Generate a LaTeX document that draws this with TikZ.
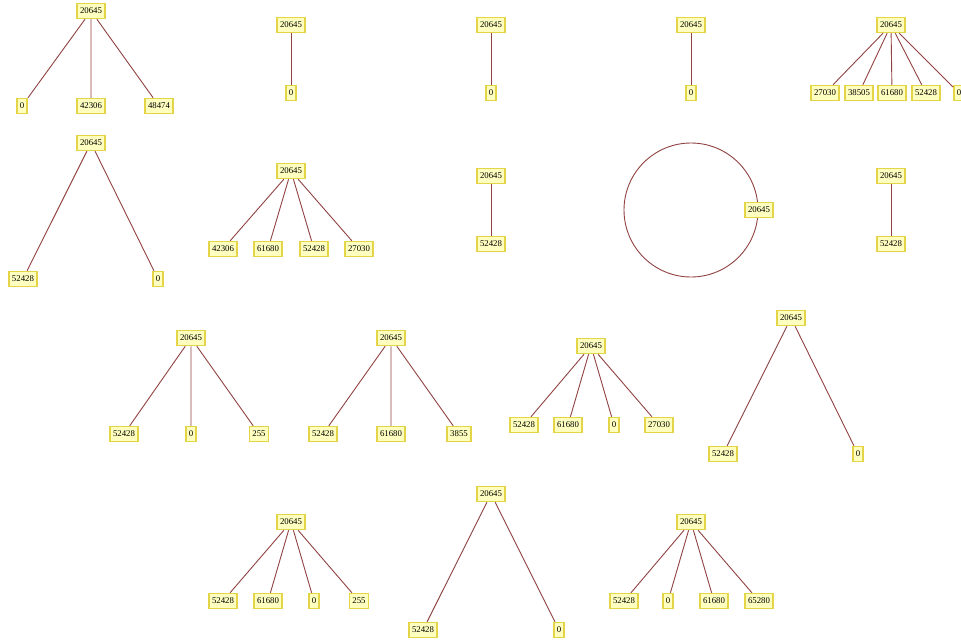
\documentclass[tikz,border=0pt]{standalone}
\usepackage{fontspec}
\setmainfont{Liberation Serif}
\definecolor{nodeborder}{RGB}{228,212,72}
\definecolor{nodefill}{RGB}{255,255,192}
\definecolor{edgecol}{RGB}{145,66,66}
\begin{document}
\begin{tikzpicture}[x=1pt,y=-1pt,
  vtx/.style={draw=nodeborder,fill=nodefill,line width=1.5pt,inner xsep=3pt,inner ysep=0pt,minimum height=15pt,font=\fontsize{8.8}{9}\selectfont},
  edge/.style={draw=edgecol,line width=0.9pt}]
\useasboundingbox[fill=white] (0,0) rectangle (961,642);
% graph 1
\node[vtx] (a0) at (91,11) {20645};
\node[vtx] (a1) at (22,106) {0};
\node[vtx] (a2) at (91,106) {42306};
\node[vtx] (a3) at (159,106) {48474};
\draw[edge] (a0)--(a1) (a0)--(a2) (a0)--(a3);
% graph 2
\node[vtx] (b0) at (291,25) {20645};
\node[vtx] (b1) at (291,93) {0};
\draw[edge] (b0)--(b1);
% graph 3
\node[vtx] (c0) at (491,25) {20645};
\node[vtx] (c1) at (491,93) {0};
\draw[edge] (c0)--(c1);
% graph 4
\node[vtx] (d0) at (691,25) {20645};
\node[vtx] (d1) at (691,93) {0};
\draw[edge] (d0)--(d1);
% graph 5
\node[vtx] (e0) at (891,25) {20645};
\node[vtx] (e1) at (825,93) {27030};
\node[vtx] (e2) at (859,93) {38505};
\node[vtx] (e3) at (892,93) {61680};
\node[vtx] (e4) at (926,93) {52428};
\node[vtx] (e5) at (959,93) {0};
\draw[edge] (e0)--(e1) (e0)--(e2) (e0)--(e3) (e0)--(e4) (e0)--(e5);
% graph 6
\node[vtx] (f0) at (91,143) {20645};
\node[vtx] (f1) at (23,279) {52428};
\node[vtx] (f2) at (158,279) {0};
\draw[edge] (f0)--(f1) (f0)--(f2);
% graph 7
\node[vtx] (g0) at (291,171) {20645};
\node[vtx] (g1) at (223,249) {42306};
\node[vtx] (g2) at (268,249) {61680};
\node[vtx] (g3) at (314,249) {52428};
\node[vtx] (g4) at (359,249) {27030};
\draw[edge] (g0)--(g1) (g0)--(g2) (g0)--(g3) (g0)--(g4);
% graph 8
\node[vtx] (h0) at (491,176) {20645};
\node[vtx] (h1) at (491,244) {52428};
\draw[edge] (h0)--(h1);
% graph 9 (self loop)
\coordinate (ic) at (691,210);
\draw[edge] (ic) circle (67);
\node[vtx] (i0) at (759,210) {20645};
% graph 10
\node[vtx] (j0) at (891,176) {20645};
\node[vtx] (j1) at (891,244) {52428};
\draw[edge] (j0)--(j1);
% graph 11
\node[vtx] (k0) at (191,338) {20645};
\node[vtx] (k1) at (124,434) {52428};
\node[vtx] (k2) at (191,434) {0};
\node[vtx] (k3) at (259,434) {255};
\draw[edge] (k0)--(k1) (k0)--(k2) (k0)--(k3);
% graph 12
\node[vtx] (l0) at (391,338) {20645};
\node[vtx] (l1) at (323,434) {52428};
\node[vtx] (l2) at (391,434) {61680};
\node[vtx] (l3) at (459,434) {3855};
\draw[edge] (l0)--(l1) (l0)--(l2) (l0)--(l3);
% graph 13
\node[vtx] (m0) at (591,346) {20645};
\node[vtx] (m1) at (524,425) {52428};
\node[vtx] (m2) at (568,425) {61680};
\node[vtx] (m3) at (614,425) {0};
\node[vtx] (m4) at (659,425) {27030};
\draw[edge] (m0)--(m1) (m0)--(m2) (m0)--(m3) (m0)--(m4);
% graph 14
\node[vtx] (n0) at (791,318) {20645};
\node[vtx] (n1) at (723,454) {52428};
\node[vtx] (n2) at (858,454) {0};
\draw[edge] (n0)--(n1) (n0)--(n2);
% graph 15
\node[vtx] (o0) at (291,522) {20645};
\node[vtx] (o1) at (223,601) {52428};
\node[vtx] (o2) at (268,601) {61680};
\node[vtx] (o3) at (314,601) {0};
\node[vtx] (o4) at (359,601) {255};
\draw[edge] (o0)--(o1) (o0)--(o2) (o0)--(o3) (o0)--(o4);
% graph 16
\node[vtx] (p0) at (491,494) {20645};
\node[vtx] (p1) at (423,630) {52428};
\node[vtx] (p2) at (559,630) {0};
\draw[edge] (p0)--(p1) (p0)--(p2);
% graph 17
\node[vtx] (q0) at (691,522) {20645};
\node[vtx] (q1) at (624,601) {52428};
\node[vtx] (q2) at (668,601) {0};
\node[vtx] (q3) at (714,601) {61680};
\node[vtx] (q4) at (759,601) {65280};
\draw[edge] (q0)--(q1) (q0)--(q2) (q0)--(q3) (q0)--(q4);
\end{tikzpicture}
\end{document}
